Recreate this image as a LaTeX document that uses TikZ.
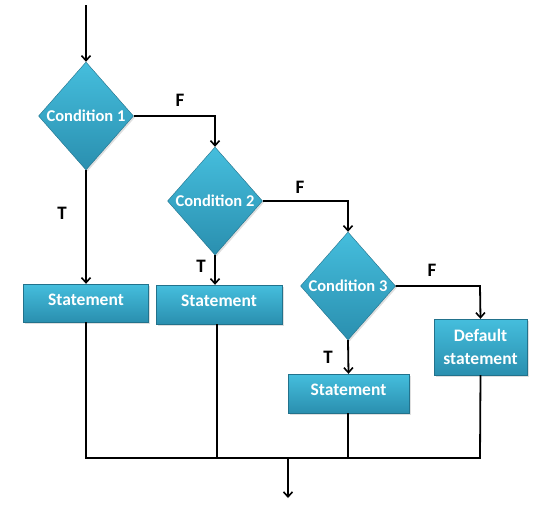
\documentclass[tikz,border=0pt]{standalone}
\usepackage{fontspec}
\setmainfont{Carlito}
\usetikzlibrary{shapes.geometric,arrows.meta,shadows}
\definecolor{cyantop}{HTML}{45BEDD}
\definecolor{cyanbot}{HTML}{2A8FAF}
\begin{document}
\begin{tikzpicture}[x=1pt,y=-1pt,
  cond/.style={diamond,shape aspect=1,inner sep=0pt,minimum width=95pt,minimum height=108pt,
    top color=cyantop,bottom color=cyanbot,draw=cyanbot!80!black,line width=0.4pt,text=white,
    font=\fontsize{16.5}{18}\selectfont\bfseries,
    drop shadow={opacity=0.25,shadow xshift=1.5pt,shadow yshift=-1.5pt}},
  stmt/.style={rectangle,inner sep=0pt,top color=cyantop,bottom color=cyanbot,
    draw=cyanbot!80!black,line width=0.4pt,text=white,align=center,
    font=\fontsize{17.5}{23}\selectfont\bfseries,
    drop shadow={opacity=0.25,shadow xshift=1.5pt,shadow yshift=-1.5pt}},
  single/.style={text height=11pt,text depth=7pt},
  flow/.style={line width=1.8pt,-{Straight Barb[length=5pt,width=9pt,line width=1.6pt]}},
  wire/.style={line width=1.8pt},
  tf/.style={text=black,font=\fontsize{19}{21}\selectfont\bfseries}]
\useasboundingbox (0,0) rectangle (549,509);
% decision nodes
\node[cond] (c1) at (86,116) {Condition 1};
\node[cond] (c2) at (215,201) {Condition 2};
\node[cond] (c3) at (348,286) {Condition 3};
% statement boxes
\node[stmt,single,minimum width=125pt,minimum height=38pt] (s1) at (86,303) {Statement};
\node[stmt,single,minimum width=126pt,minimum height=39pt] (s2) at (219,304.5) {Statement};
\node[stmt,single,minimum width=121pt,minimum height=39pt] (s3) at (348.5,393.5) {Statement};
\node[stmt,minimum width=93pt,minimum height=56pt] (sd) at (480.5,347) {Default\\statement};
% coordinates
\coordinate (top) at (86,5);
\coordinate (k1) at (215,116);
\coordinate (k2) at (348,201);
\coordinate (k3) at (480,286);
\coordinate (b1) at (86,458);
\coordinate (b2) at (217,458);
\coordinate (b3) at (348,458);
\coordinate (b4) at (480,458);
\coordinate (bm) at (288,458);
\coordinate (out) at (288,498);
% connectors
\draw[flow] (top) -- (c1.north);
\draw[flow] (c1.east) -- (k1) -- (c2.north);
\draw[flow] (c2.east) -- (k2) -- (c3.north);
\draw[flow] (c3.east) -- (k3) -- (sd.north);
\draw[flow] (c1.south) -- (s1.north);
\draw[flow] (c2.south) -- (c2.south |- s2.north);
\draw[flow] (c3.south) -- (s3.north);
\draw[wire] (s1.south) -- (b1) -- (b4) -- (sd.south);
\draw[wire] (s2.south -| b2) -- (b2);
\draw[wire] (s3.south -| b3) -- (b3);
\draw[flow] (bm) -- (out);
% labels
\node[tf] (f1) at (180,100) {F};
\node[tf] (f2) at (300,187) {F};
\node[tf] (f3) at (432,270) {F};
\node[tf] (t1) at (62,213) {T};
\node[tf] (t2) at (201,266) {T};
\node[tf] (t3) at (328,357) {T};
\end{tikzpicture}
\end{document}
